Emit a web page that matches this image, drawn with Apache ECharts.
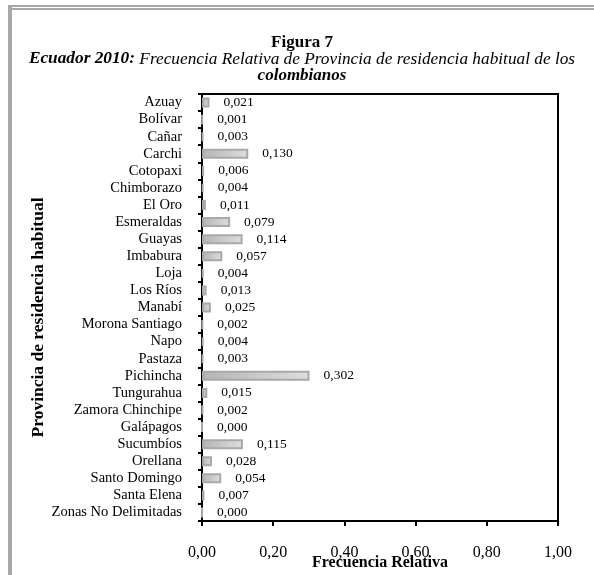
<!DOCTYPE html>
<html>
<head>
<meta charset="utf-8">
<script src="https://cdn.jsdelivr.net/npm/echarts@6/dist/echarts.min.js"></script>
<style>
  html, body { margin: 0; padding: 0; background: #fff; }
  #chart { width: 594px; height: 575px; }
</style>
</head>
<body>
<div id="chart"></div>
<script>
const provinces = [
  'Azuay', 'Bolívar', 'Cañar', 'Carchi', 'Cotopaxi', 'Chimborazo', 'El Oro',
  'Esmeraldas', 'Guayas', 'Imbabura', 'Loja', 'Los Ríos', 'Manabí',
  'Morona Santiago', 'Napo', 'Pastaza', 'Pichincha', 'Tungurahua',
  'Zamora Chinchipe', 'Galápagos', 'Sucumbíos', 'Orellana', 'Santo Domingo',
  'Santa Elena', 'Zonas No Delimitadas'
];
const frecuencia = [
  0.021, 0.001, 0.003, 0.130, 0.006, 0.004, 0.011,
  0.079, 0.114, 0.057, 0.004, 0.013, 0.025,
  0.002, 0.004, 0.003, 0.302, 0.015,
  0.002, 0.000, 0.115, 0.028, 0.054,
  0.007, 0.000
];

const fmt = v => v.toFixed(2).replace('.', ',');
const fmt3 = v => v.toFixed(3).replace('.', ',');
const serif = '"Liberation Serif", "Times New Roman", serif';

const chart = echarts.init(document.getElementById('chart'));
chart.setOption({
  backgroundColor: '#fff',
  animation: false,
  textStyle: { fontFamily: serif, color: '#000' },
  title: [
    {
      text: 'Figura 7', left: 297, top: 29, textAlign: 'center',
      textStyle: { fontFamily: serif, fontSize: 17, fontWeight: 'bold', color: '#000' }
    },
    {
      text: '{b|Ecuador 2010:}{i| Frecuencia Relativa de Provincia de residencia habitual de los}',
      left: 297, top: 45.5, textAlign: 'center',
      textStyle: {
        fontFamily: serif, fontSize: 17.3, fontWeight: 'normal',
        rich: {
          b: { fontFamily: serif, fontSize: 17.3, fontWeight: 'bold', fontStyle: 'italic', color: '#000' },
          i: { fontFamily: serif, fontSize: 17.3, fontWeight: 'normal', fontStyle: 'italic', color: '#000' }
        }
      }
    },
    {
      text: 'colombianos', left: 297, top: 62, textAlign: 'center',
      textStyle: { fontFamily: serif, fontSize: 17, fontWeight: 'bold', fontStyle: 'italic', color: '#000' }
    }
  ],
  graphic: [
    { type: 'rect', shape: { x: 8, y: 5, width: 4, height: 570 }, style: { fill: '#a8a8a8' } },
    { type: 'rect', shape: { x: 8, y: 5, width: 586, height: 2 }, style: { fill: '#a8a8a8' } },
    { type: 'rect', shape: { x: 12, y: 8, width: 582, height: 2 }, style: { fill: '#a8a8a8' } }
  ],
  grid: {
    left: 202, top: 94, width: 356, height: 427,
    outerBoundsMode: 'none', containLabel: false,
    show: true, borderColor: '#000', borderWidth: 2, backgroundColor: 'transparent'
  },
  xAxis: {
    type: 'value', min: 0, max: 1, interval: 0.2,
    name: 'Frecuencia Relativa', nameLocation: 'middle', nameGap: 34,
    nameMoveOverlap: false,
    nameTextStyle: { fontFamily: serif, fontSize: 16, fontWeight: 'bold', color: '#000' },
    axisLine: { show: true, lineStyle: { color: '#000', width: 2 } },
    axisTick: { show: true, length: 5, lineStyle: { color: '#000', width: 2 } },
    axisLabel: { formatter: fmt, margin: 24, fontFamily: serif, fontSize: 16, color: '#000' },
    splitLine: { show: false }
  },
  yAxis: {
    type: 'category', data: provinces, inverse: true,
    name: 'Provincia de residencia habitual', nameLocation: 'middle', nameGap: 155,
    nameRotate: 90, nameMoveOverlap: false,
    nameTextStyle: {
      fontFamily: serif, fontSize: 17.5, fontWeight: 'bold', color: '#000',
      padding: [0, 20, 0, 0]
    },
    axisLine: { show: true, lineStyle: { color: '#000', width: 2 } },
    axisTick: { show: true, length: 4, lineStyle: { color: '#000', width: 2 } },
    axisLabel: { interval: 0, margin: 20, fontFamily: serif, fontSize: 14.5, color: '#000' }
  },
  series: [{
    type: 'bar',
    data: frecuencia,
    barWidth: 10,
    itemStyle: {
      color: new echarts.graphic.LinearGradient(0, 0, 1, 0, [
        { offset: 0, color: '#b4b4b4' },
        { offset: 1, color: '#dedede' }
      ]),
      borderColor: '#a9a9a9',
      borderWidth: 2
    },
    label: {
      show: true, position: 'right', distance: 14,
      formatter: p => fmt3(p.value),
      fontFamily: serif, fontSize: 13.5, color: '#000'
    }
  }]
});
</script>
</body>
</html>
